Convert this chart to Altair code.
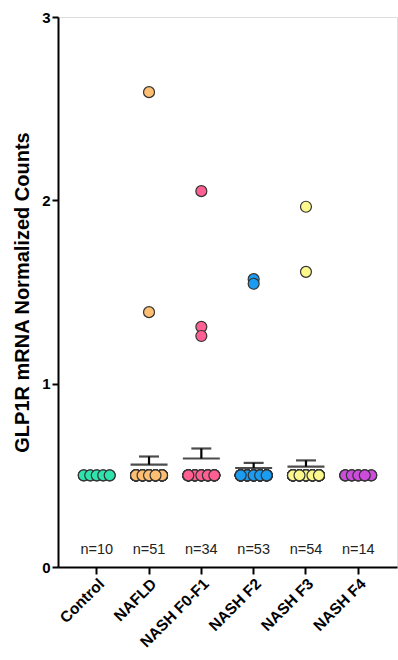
import altair as alt
import pandas as pd

groups = ["Control", "NAFLD", "NASH F0-F1", "NASH F2", "NASH F3", "NASH F4"]
n_counts = [10, 51, 34, 53, 54, 14]
colors = ["#2ee3ae", "#ffbf72", "#ff5f93", "#1b9cf0", "#fdf88e", "#cc4ddc"]
baseline_value = 0.5
outliers = {
    "Control": [],
    "NAFLD": [2.59, 1.39],
    "NASH F0-F1": [2.05, 1.31, 1.26],
    "NASH F2": [1.57, 1.545],
    "NASH F3": [1.965, 1.61],
    "NASH F4": [],
}
y_ticks = [0, 1, 2, 3]

rows = []
for g, n in zip(groups, n_counts):
    outs = outliers[g]
    for i in range(n - len(outs)):
        rows.append({"group": g, "value": baseline_value, "slot": i % 5})
    for v in outs:
        rows.append({"group": g, "value": v, "slot": 2})
points_df = pd.DataFrame(rows)
n_df = pd.DataFrame({"group": groups, "label": [f"n={n}" for n in n_counts]})

FONT = "Liberation Sans"

x_enc = alt.X(
    "group:N",
    sort=groups,
    scale=alt.Scale(domain=groups, paddingInner=0.38, paddingOuter=0.43),
    axis=alt.Axis(
        title=None, labelAngle=315, labelAlign="right", labelBaseline="top",
        labelFontWeight="bold", labelFontSize=15.5, labelFont=FONT, labelColor="black",
        tickColor="black", tickWidth=2, tickSize=7, labelPadding=2,
        domainColor="black", domainWidth=2,
    ),
)
y_scale = alt.Scale(domain=[0, 3], nice=False)
y_axis = alt.Axis(
    title="GLP1R mRNA Normalized Counts", values=y_ticks, format="d", grid=False,
    titleFont=FONT, titleFontSize=20, titleFontWeight="bold", titleColor="black",
    titlePadding=9, labelFont=FONT, labelFontSize=15, labelFontWeight="bold",
    labelColor="black", tickColor="black", tickWidth=2, tickSize=6,
    domainColor="black", domainWidth=2,
)

base = alt.Chart(points_df)

stats = base.transform_aggregate(
    mean="mean(value)", sem="stderr(value)", groupby=["group"]
).transform_calculate(upper="datum.mean + datum.sem")

mean_tick = stats.mark_tick(size=37, thickness=2.2, color="black").encode(
    x=x_enc, y=alt.Y("mean:Q", scale=y_scale, axis=y_axis)
)
err_rule = stats.mark_rule(strokeWidth=2.2, color="black").encode(
    x=x_enc, y=alt.Y("mean:Q", scale=y_scale), y2="upper:Q"
)
cap = stats.mark_tick(size=20, thickness=2.2, color="black").encode(
    x=x_enc, y=alt.Y("upper:Q", scale=y_scale)
)

pts = base.mark_circle(size=120, opacity=1, stroke="#333333", strokeWidth=1.2).encode(
    x=x_enc,
    xOffset=alt.XOffset("slot:O"),
    y=alt.Y("value:Q", scale=y_scale, axis=y_axis),
    color=alt.Color("group:N", scale=alt.Scale(domain=groups, range=colors), legend=None),
)

ntext = alt.Chart(n_df).mark_text(font=FONT, fontSize=14.5, color="#222222").encode(
    x=x_enc, y=alt.value(533), text="label:N"
)

chart = alt.layer(mean_tick, err_rule, cap, pts, ntext).properties(
    width=339, height=550,
    autosize=alt.AutoSizeParams(type="none"),
    padding={"left": 58, "top": 17, "right": 1, "bottom": 93},
).configure_view(stroke="#444444", strokeWidth=1.5).configure(background="white")

chart.save("out.html", embed_options={"renderer": "svg", "actions": False})
